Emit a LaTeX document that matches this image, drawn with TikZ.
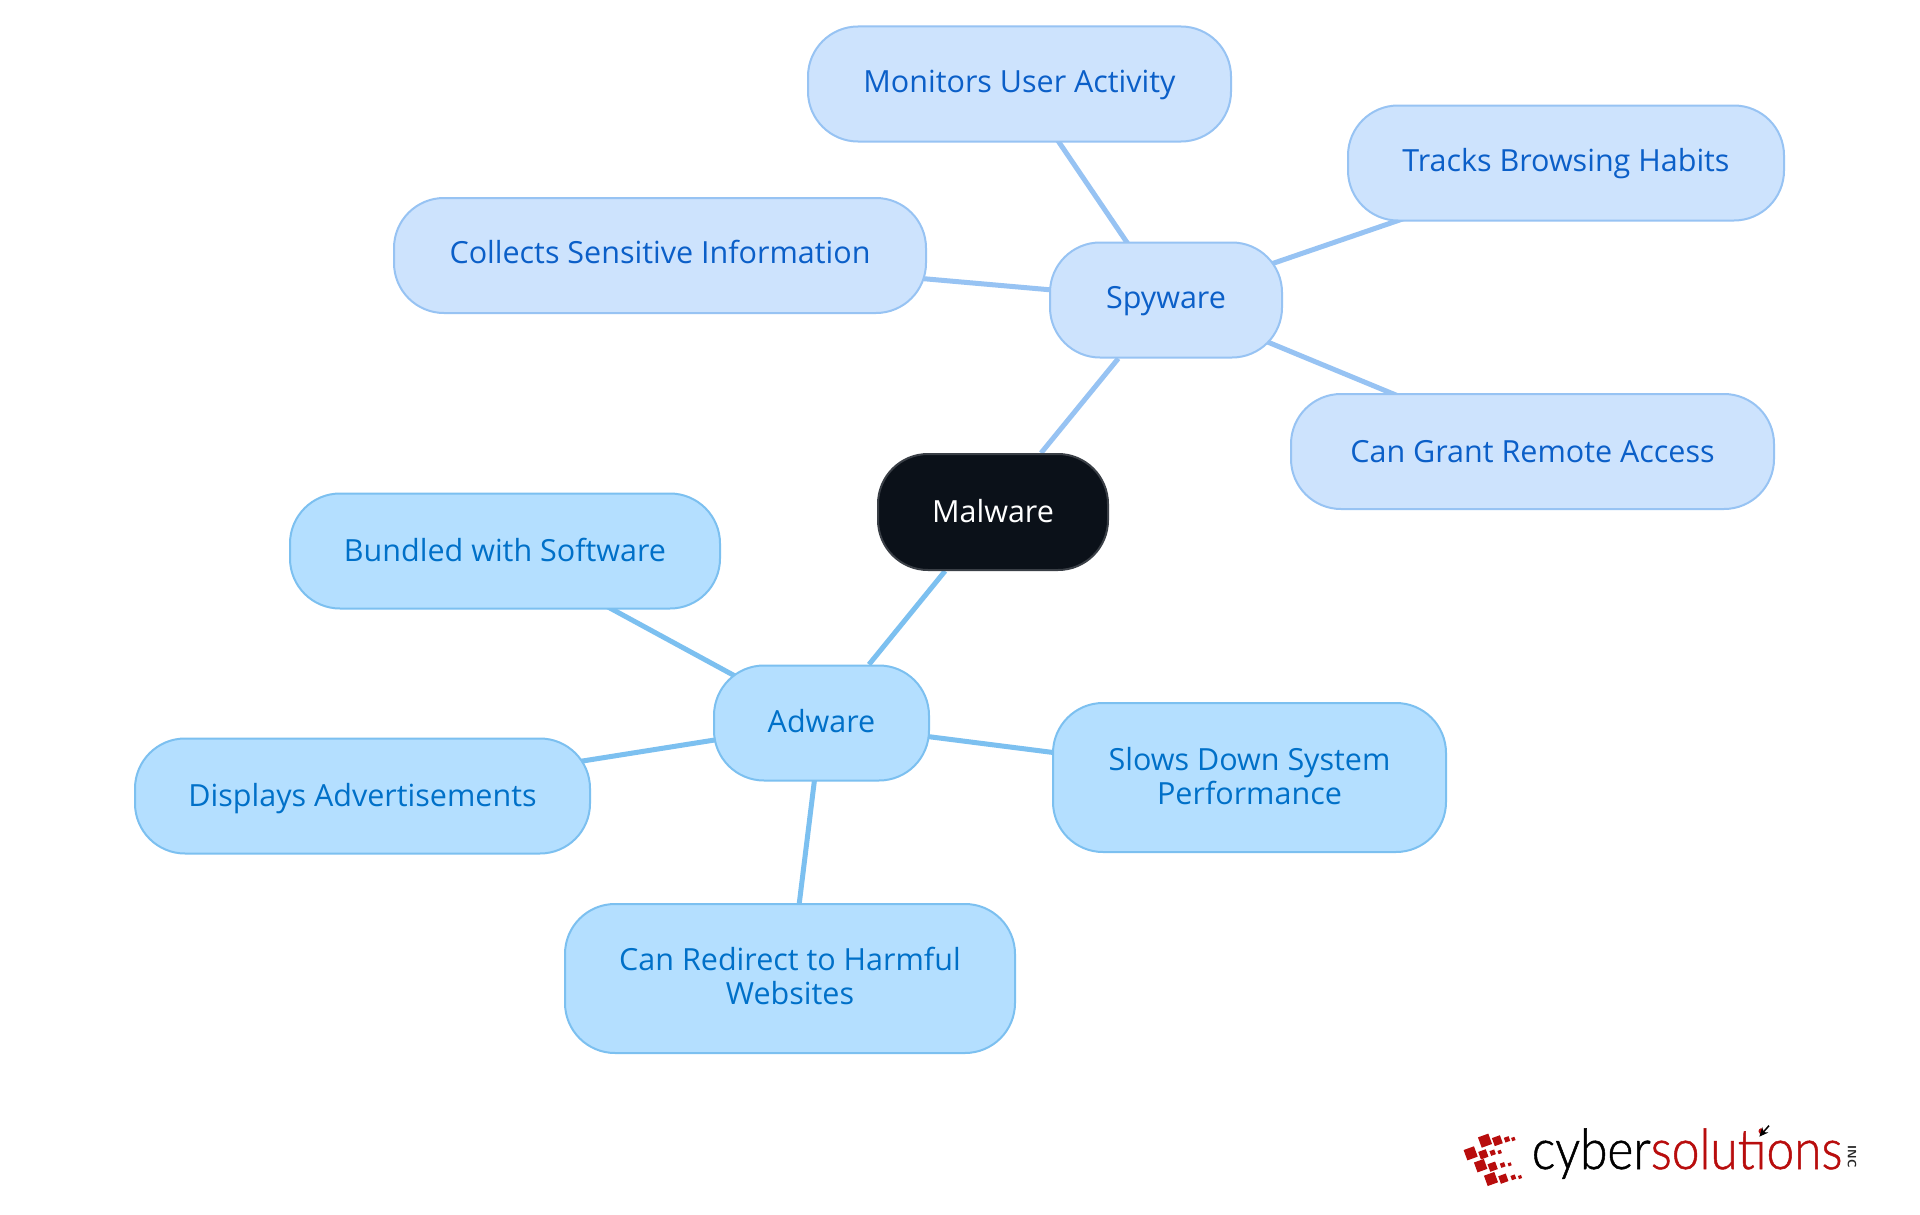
\documentclass[tikz,border=0pt]{standalone}
\usepackage{fontspec}
\setmainfont{Open Sans}
\newfontfamily\logofont[FakeStretch=0.885,FakeBold=0.9]{Lato Light}
\usetikzlibrary{backgrounds,arrows.meta}
\definecolor{rootfill}{HTML}{0B1119}
\definecolor{rootline}{HTML}{3A3F46}
\definecolor{spyfill}{HTML}{CDE3FD}
\definecolor{spyline}{HTML}{97C3F3}
\definecolor{spytext}{HTML}{0B5FC8}
\definecolor{adfill}{HTML}{B4DFFF}
\definecolor{adline}{HTML}{7CC0F0}
\definecolor{adtext}{HTML}{0070C8}
\definecolor{logored}{HTML}{B80D0D}
\newcommand{\tl}[2]{\raisebox{#1pt}[\height][\depth]{#2}}
\tikzset{
  x=1pt,y=-1pt,
  mm/.style={rounded corners=50pt,line width=2pt,align=center,inner sep=0pt,font=\fontsize{30.5}{34.5}\selectfont},
  rootnode/.style={mm,fill=rootfill,draw=rootline,text=white},
  spynode/.style={mm,fill=spyfill,draw=spyline,text=spytext},
  adnode/.style={mm,fill=adfill,draw=adline,text=adtext},
  spyedge/.style={draw=spyline,line width=5pt},
  adedge/.style={draw=adline,line width=5pt},
  sq/.style={fill=logored,draw=none,rotate=20,inner sep=0pt,minimum size=#1},
}
\begin{document}
\begin{tikzpicture}
\useasboundingbox (0,0) rectangle (1920,1215);
\node[rootnode,minimum width=230pt,minimum height=116pt] (malware) at (993,512) {\tl{1.2}{Malware}};
\node[spynode,minimum width=232pt,minimum height=115pt] (spyware) at (1166,300) {\tl{-1.2}{Spyware}};
\node[spynode,minimum width=423pt,minimum height=115pt] (monitors) at (1019.5,84) {\tl{-1.2}{Monitors User Activity}};
\node[spynode,minimum width=436pt,minimum height=115pt] (tracks) at (1566,163) {\tl{-0.4}{Tracks Browsing Habits}};
\node[spynode,minimum width=532pt,minimum height=115pt] (collects) at (660,255.5) {\tl{3.7}{Collects Sensitive Information}};
\node[spynode,minimum width=483pt,minimum height=115pt] (grant) at (1532.5,451.5) {Can Grant Remote Access};
\node[adnode,minimum width=215pt,minimum height=115pt] (adware) at (821.5,723) {\tl{2.4}{Adware}};
\node[adnode,minimum width=430pt,minimum height=115pt] (bundled) at (505,551) {\tl{1.2}{Bundled with Software}};
\node[adnode,minimum width=455pt,minimum height=115pt] (displays) at (362.5,796) {\tl{-2.4}{Displays Advertisements}};
\node[adnode,minimum width=393pt,minimum height=149pt] (slows) at (1249.5,777.5) {\tl{1.5}{Slows Down System}\\\tl{1.5}{Performance}};
\node[adnode,minimum width=450pt,minimum height=149pt] (redirect) at (790,978.5) {\tl{2.4}{Can Redirect to Harmful}\\\tl{2.4}{Websites}};
\begin{pgfonlayer}{background}
\fill[white] (0,0) rectangle (1920,1215);
\draw[spyedge] (malware) -- (spyware);
\draw[spyedge] (spyware.center) -- (monitors.center);
\draw[spyedge] (spyware.center) -- (tracks.center);
\draw[spyedge] (spyware.center) -- (collects.center);
\draw[spyedge] (spyware.center) -- (grant.center);
\draw[adedge] (malware) -- (adware);
\draw[adedge] (adware.center) -- (bundled.center);
\draw[adedge] (adware.center) -- (displays.center);
\draw[adedge] (adware.center) -- (slows.center);
\draw[adedge] (adware.center) -- (redirect.center);
\end{pgfonlayer}
% logo
\begin{scope}[shift={(1440,1100)},x=0.3333pt,y=-0.3333pt]
\foreach \a/\b/\s in {135/122/11,172/122/8.5,201/118/5,220/117/3.5,
  92/160/11,130/163/8,158/158/5,179/156/3.5,
  122/197/10.5,158/200/8,188/195/4.5,209/193/3.2,
  153/237/11,190/236/8,220/232/4.5,240/231/3.3}
  \node[sq=\s pt] at (\a,\b) {};
\node[anchor=base west,inner sep=0pt,font=\logofont\fontsize{56}{56}\selectfont] (logo) at (275,207) {\textcolor{black}{cyber}\textcolor{logored}{solutions}};
\node[anchor=center,inner sep=0pt,rotate=-90,font=\sffamily\bfseries\fontsize{12}{12}\selectfont,text=black!85] (inc) at (1236,170) {INC};
\coordinate (arrowtail) at (987,77);
\coordinate (arrowhead) at (958,110);
\draw[line width=1.5pt,black,-{Stealth[length=9pt,width=8pt]}] (arrowtail) -- (arrowhead);
\end{scope}
\end{tikzpicture}
\end{document}
